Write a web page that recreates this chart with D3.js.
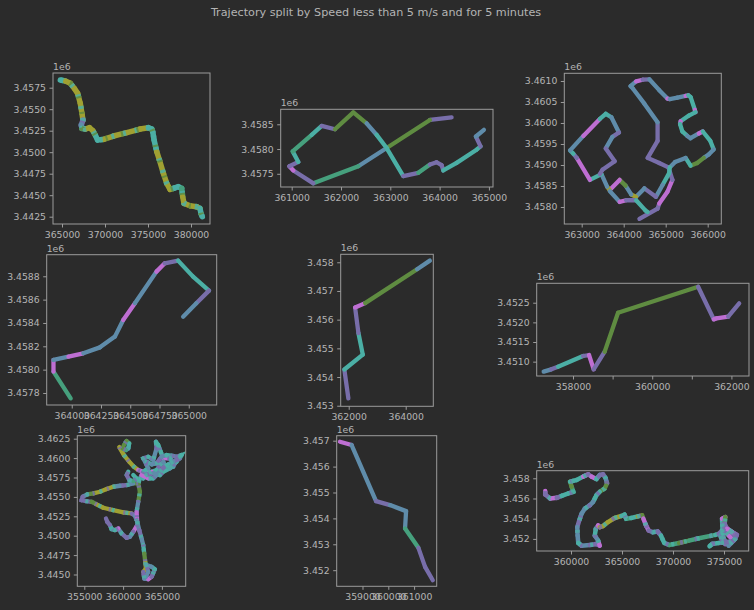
<!DOCTYPE html>
<html><head><meta charset="utf-8">
<script src="https://cdn.jsdelivr.net/npm/d3@7"></script>
<style>body{margin:0;background:#2b2b2b}</style>
</head><body><svg id="c" width="754" height="610"></svg>
<script>
const title = "Trajectory split by Speed less than 5 m/s and for 5 minutes";
const palette = {t:"#4bafa5", s:"#5f8caa", p:"#786eaa", m:"#be6ed2", o:"#a0a032", g:"#5f8c41", e:"#46a07d"};

// ---------- data (x, y in metres) ----------
const p1Points = [[364807,3458391],[365387,3458275],[365967,3458004],[366430,3457422],[366817,3456841],[367126,3455678],[367320,3454515],[367436,3453740],[367242,3453159],[367320,3452771],[367706,3452694],[368209,3452849],[368595,3452500],[368866,3451996],[369137,3451415],[369833,3451492],[370992,3451880],[372539,3452267],[374085,3452694],[375052,3452849],[375438,3452694],[375554,3452384],[375709,3451415],[376018,3450058],[376327,3449089],[376791,3447539],[377178,3446376],[377565,3445678],[377951,3445795],[378531,3445988],[378918,3445795],[379034,3444826],[379188,3444051],[379884,3443779],[380657,3443663],[381044,3443469],[381160,3442887],[381315,3442500]];
const p1Colors = "toooooopstooottoooottttoooootteoooottt";

const p2Points = [[364243,3458640],[363804,3458587],[362926,3458020],[362351,3457653],[361439,3457307],[361034,3457567],[360953,3457653],[361135,3457740],[361020,3457953],[361405,3458287],[361608,3458467],[361878,3458400],[362250,3458740],[362520,3458520],[362723,3458287],[362926,3458020],[363264,3457453],[363568,3457520],[363804,3457687],[363939,3457733],[364041,3457673],[364074,3457567],[364345,3457720],[364750,3457987],[364831,3458053],[364736,3458253],[364899,3458387]];
const p2Colors = "pgsepmptetpggsttpeppptttps";

const p3PointsA = [[364375,3457718],[364807,3457960],[364846,3458081],[365042,3458363],[365160,3458645],[365066,3458943],[364846,3459048],[364571,3459169],[364807,3459573],[364807,3460016],[364492,3460460],[364218,3460823],[364163,3460879],[364296,3460990],[364453,3461030],[364610,3461040],[364846,3460782],[365042,3460581],[365097,3460570],[365278,3460605],[365474,3460645],[365537,3460661],[365592,3460621],[365694,3460314],[365710,3460258],[365553,3460177],[365356,3460040],[365341,3459976],[365396,3459798],[365514,3459693],[365592,3459637],[365789,3459750],[365883,3459798],[366063,3459573],[366142,3459371],[366024,3459250],[365906,3459169],[365749,3459048],[365592,3458984],[365474,3459169],[365223,3459073],[365097,3458943],[365082,3458806],[364925,3458524],[364767,3458242],[364492,3458443],[364296,3458242],[364178,3458298],[364045,3458508],[363903,3458645],[363668,3458403],[363605,3458484],[363471,3458782],[363196,3458645],[362882,3459169],[362803,3459266],[362725,3459347],[363039,3459693],[363432,3460097],[363573,3460218],[363707,3460137],[363888,3459774],[363731,3459669],[363573,3459395],[363786,3459089],[363495,3458887],[363432,3458782]];
const p3ColorsA = "ppmmpppppssssmpssmssmttmttmttssmttssggtssttspsosgmostmptsmttspspp";
const p3PointsB = [[363668,3458379],[363903,3458121],[364060,3458161],[364296,3458161],[364516,3457919],[364571,3457879]];
const p3ColorsB = "smptt";

const p4Points = [[363991,3457754],[363844,3457983],[363844,3458083],[363972,3458111],[364099,3458140],[364241,3458191],[364369,3458283],[364440,3458426],[364540,3458569],[364724,3458840],[364795,3458911],[364909,3458934],[365037,3458797],[365173,3458677],[365065,3458569],[364952,3458454]];
const p4Colors = "emsmsssmsmpttps";

const p5Points = [[361988,3453255],[361847,3454262],[362494,3454782],[362341,3455535],[362224,3456426],[362576,3456576],[364400,3457757],[364847,3458058]];
const p5Colors = "pttpmgs";

const p6Points = [[357259,3450746],[357452,3450805],[357621,3450873],[358253,3451144],[358404,3451169],[358522,3450805],[358800,3451254],[359137,3452246],[361159,3452907],[361555,3452076],[361622,3452102],[361918,3452144],[362196,3452483]];
const p6Colors = "sptpmpggpmmp";

const p7PointsA = [[359507,3461425],[360107,3460393],[360794,3459533],[361395,3458888],[361953,3458458],[362597,3458243],[363241,3458673],[362597,3459963],[363241,3460178],[363884,3459748],[364314,3461253],[364228,3462113],[364529,3461683],[365172,3459963],[366030,3459963],[366674,3459318],[366460,3458888],[365601,3458673],[365172,3459533],[364743,3459103],[364314,3458458],[363670,3458243],[363026,3458028],[362597,3457383],[363026,3457813],[363884,3458028],[364743,3457813],[365172,3458243],[366030,3458673],[366889,3459533],[367318,3460178],[366889,3459963]];
const p7ColorsA = "oooomtsptspttmsptssptmstpsststst";
const p7PointsB = [[360236,3461898],[360451,3462199],[360794,3461898],[360665,3461253],[360365,3461038],[359936,3461253],[360107,3461683]];
const p7ColorsB = "egtseg";
const p7PointsC = [[362597,3458243],[362168,3457383],[361953,3456738],[362168,3455663],[361953,3454373],[361738,3453083],[361824,3451793],[362082,3450718],[362382,3449643],[362597,3448783],[362726,3447708],[362855,3446633],[362940,3445773],[362597,3445343],[362726,3444483],[363241,3444397],[363670,3444698],[364099,3445687],[363670,3445988],[363026,3446203],[363241,3445343],[362940,3444698]];
const p7ColorsC = "ptggsmspstgoopsmptsps";
const p7PointsD = [[361953,3456738],[361309,3456738],[360451,3456523],[359592,3456437],[358734,3456308],[357876,3456007],[357017,3455663],[356159,3455448],[355386,3455319],[354785,3455018],[354657,3454588],[355215,3454459],[355944,3454373],[356588,3454029],[357446,3453599],[358734,3453298],[360022,3452997],[361095,3452868],[361524,3452567],[361738,3452008]];
const p7ColorsD = "gspsooogspppgoooops";
const p7PointsE = [[361824,3451363],[361309,3450503],[360880,3449858],[360451,3449729],[359807,3450288],[359378,3450933],[358949,3450718],[358519,3450847],[358305,3451363],[357961,3451793],[357790,3452223]];
const p7ColorsE = "mpspsmtspp";
const p7PointsF = [[363026,3459533],[363670,3459189],[364314,3459318],[364958,3460178],[365601,3460393],[366245,3460307],[366889,3460178],[367533,3460393],[367318,3459963],[366460,3459533],[365816,3459189],[365172,3458759],[364529,3458028],[363884,3457383],[363241,3457383],[362382,3457813]];
const p7ColorsF = "tspstsptpstpstm";
const p7PointsG = [[360665,3458243],[360451,3457813],[360794,3457168],[361309,3457039],[361738,3457383],[361309,3457813]];
const p7ColorsG = "tpset";

const p8Points = [[358127,3456961],[358579,3456832],[359524,3454667],[360068,3454513],[360689,3454281],[360650,3453611],[361167,3452863],[361426,3452129],[361724,3451613]];
const p8Colors = "mspssepp";

const p9Points = [[357473,3456733],[357473,3456400],[357959,3456000],[358607,3456067],[359093,3456267],[359741,3456500],[360227,3456667],[360065,3457167],[359903,3457667],[360551,3457833],[361199,3458167],[361685,3458400],[362009,3458167],[362495,3457933],[362819,3458333],[363143,3458400],[363402,3458000],[363532,3457500],[363305,3457000],[362819,3456667],[362495,3456333],[362171,3455667],[361847,3455333],[361361,3455000],[361037,3454500],[360810,3453833],[360616,3453167],[360648,3452333],[360713,3451600],[361037,3451333],[361847,3451400],[362495,3451500],[362819,3451333],[362657,3451833],[362333,3452333],[362430,3453000],[362657,3453333],[362819,3453167],[363143,3453267],[363629,3453667],[364277,3454067],[364925,3454267],[365249,3454400],[365411,3454000],[365897,3454067],[366545,3454233],[366966,3454333],[367096,3454000],[367355,3453333],[367614,3452833],[368003,3452667],[368489,3452733],[368813,3452333],[369137,3451600],[369623,3451400],[370595,3451600],[371567,3451833],[372539,3452067],[374159,3452400],[374483,3452500],[374807,3452833],[375131,3453167],[375779,3452667],[376103,3452167],[375617,3451667],[375131,3451500],[374807,3451833],[374645,3452333],[374969,3452833],[375455,3452333],[375941,3451833],[375455,3451333],[374969,3452000],[374872,3452500],[374807,3454000],[375131,3454167],[375066,3453500],[375293,3453000],[376265,3452400],[376103,3452000],[375779,3451733],[374483,3451600],[373835,3451500],[373576,3451267]];
const p9Colors = "mpmpttegttmpmtppsggttsssspsstsppmstpmooootteto gmmpspttegeetppmpspmpspmpsptmgpmpsptt".replace(/ /g,"");

// ---------- ticks ----------
const xTicks = [
  [365000,370000,375000,380000],
  [361000,362000,363000,364000,365000],
  [363000,364000,365000,366000],
  [364000,364250,364500,364750,365000],
  [362000,364000],
  [358000,359000,360000,361000,362000],
  [355000,360000,365000],
  [359000,360000,361000],
  [360000,365000,370000,375000]
];
const xLabels = [
  ["365000","370000","375000","380000"],
  ["361000","362000","363000","364000","365000"],
  ["363000","364000","365000","366000"],
  ["364000","364250","364500","364750","365000"],
  ["362000","364000"],
  ["358000","","360000","","362000"],
  ["355000","360000","365000"],
  ["359000","360000","361000"],
  ["360000","365000","370000","375000"]
];
const yTicks = [
  [3442500,3445000,3447500,3450000,3452500,3455000,3457500],
  [3457500,3458000,3458500],
  [3458000,3458500,3459000,3459500,3460000,3460500,3461000],
  [3457800,3458000,3458200,3458400,3458600,3458800],
  [3453000,3454000,3455000,3456000,3457000,3458000],
  [3451000,3451500,3452000,3452500],
  [3445000,3447500,3450000,3452500,3455000,3457500,3460000,3462500],
  [3452000,3453000,3454000,3455000,3456000,3457000],
  [3452000,3454000,3456000,3458000]
];
const yLabels = [
  ["3.4425","3.4450","3.4475","3.4500","3.4525","3.4550","3.4575"],
  ["3.4575","3.4580","3.4585"],
  ["3.4580","3.4585","3.4590","3.4595","3.4600","3.4605","3.4610"],
  ["3.4578","3.4580","3.4582","3.4584","3.4586","3.4588"],
  ["3.453","3.454","3.455","3.456","3.457","3.458"],
  ["3.4510","3.4515","3.4520","3.4525"],
  ["3.4450","3.4475","3.4500","3.4525","3.4550","3.4575","3.4600","3.4625"],
  ["3.452","3.453","3.454","3.455","3.456","3.457"],
  ["3.452","3.454","3.456","3.458"]
];

const tracks = [
  [[p1Points,p1Colors]],
  [[p2Points,p2Colors]],
  [[p3PointsA,p3ColorsA],[p3PointsB,p3ColorsB]],
  [[p4Points,p4Colors]],
  [[p5Points,p5Colors]],
  [[p6Points,p6Colors]],
  [[p7PointsD,p7ColorsD],[p7PointsE,p7ColorsE],[p7PointsC,p7ColorsC],[p7PointsA,p7ColorsA],[p7PointsF,p7ColorsF],[p7PointsG,p7ColorsG],[p7PointsB,p7ColorsB]],
  [[p8Points,p8Colors]],
  [[p9Points,p9Colors]]
];

// ---------- layout (pixel boxes + axis limits) ----------
const layout = [
  {box:[53,73,210,224], xd:[363953,382209], yd:[3441651,3459209], lw:5.5, speckle:[["t","3 9",0],["g","2 14",6]]},
  {box:[280.7,109.3,493,187], xd:[360777,365083], yd:[3457233,3458803], lw:4.3},
  {box:[564.3,73.3,721.3,224], xd:[362586,366324], yd:[3457595,3461183], lw:4.3},
  {box:[46.7,254.7,216.7,405], xd:[363786,365239], yd:[3457697,3458985], lw:4.3},
  {box:[340.7,254.3,433.3,406.3], xd:[361719,364968], yd:[3452980,3458278], lw:4.3},
  {box:[536.7,283.3,749,376], xd:[357083,362444], yd:[3450635,3452994], lw:4.3},
  {box:[77.3,435.7,185.7,586.3], xd:[354098,368067], yd:[3443479,3462887], lw:4.3, speckle:[["p","2 13",0],["t","3 11",5]]},
  {box:[336.7,435.7,436.7,586.3], xd:[358000,361876], yd:[3451378,3457193], lw:4.3},
  {box:[536.7,470.7,748.7,551], xd:[356637,377422], yd:[3450802,3458752], lw:4.5, speckle:[["p","3 12",0],["t","3 10",6]]}
];

const BG = "#2b2b2b", FRAME = "#9c9c9c", TXT = "#b4b4b4";
const FONT = "DejaVu Sans, sans-serif";

const svg = d3.select("#c");
svg.append("rect").attr("width",754).attr("height",610).attr("fill",BG);
svg.append("text").attr("x",376).attr("y",16).attr("text-anchor","middle")
  .attr("font-family",FONT).attr("font-size",11.2).attr("fill",TXT).text(title);
const defs = svg.append("defs");

layout.forEach((L,i)=>{
  const [x0,y0,x1,y1] = L.box;
  const x = d3.scaleLinear().domain(L.xd).range([x0,x1]);
  const y = d3.scaleLinear().domain(L.yd).range([y1,y0]);
  defs.append("clipPath").attr("id","cp"+i).append("rect")
    .attr("x",x0).attr("y",y0).attr("width",x1-x0).attr("height",y1-y0);
  const g = svg.append("g");
  const lg = g.append("g").attr("clip-path",`url(#cp${i})`);
  const lineGen = d3.line().x(d=>x(d[0])).y(d=>y(d[1]));
  tracks[i].forEach(([pts,cols])=>{
    for(let k=0;k<pts.length-1;k++){
      const c = palette[cols[k]] || palette[cols[cols.length-1]] || palette.t;
      lg.append("line")
        .attr("x1",x(pts[k][0])).attr("y1",y(pts[k][1]))
        .attr("x2",x(pts[k+1][0])).attr("y2",y(pts[k+1][1]))
        .attr("stroke",c).attr("stroke-width",L.lw).attr("stroke-linecap","round");
    }
  });
  if(L.speckle){
    tracks[i].forEach(([pts])=>{
      L.speckle.forEach(([c,dash,off])=>{
        lg.append("path").attr("d",lineGen(pts)).attr("fill","none")
          .attr("stroke",palette[c]).attr("stroke-width",L.lw)
          .attr("stroke-dasharray",dash).attr("stroke-dashoffset",off)
          .attr("stroke-linecap","butt").attr("opacity",0.85);
      });
    });
  }
  g.append("rect").attr("x",x0).attr("y",y0).attr("width",x1-x0).attr("height",y1-y0)
    .attr("fill","none").attr("stroke",FRAME).attr("stroke-width",1);
  const ax = g.append("g").attr("transform",`translate(0,${y1})`)
    .call(d3.axisBottom(x).tickValues(xTicks[i]).tickFormat((d,k)=>xLabels[i][k])
      .tickSizeInner(3.5).tickSizeOuter(0).tickPadding(3.5));
  const ay = g.append("g").attr("transform",`translate(${x0},0)`)
    .call(d3.axisLeft(y).tickValues(yTicks[i]).tickFormat((d,k)=>yLabels[i][k])
      .tickSizeInner(3.5).tickSizeOuter(0).tickPadding(3.5));
  [ax,ay].forEach(a=>{
    a.select(".domain").remove();
    a.selectAll("line").attr("stroke",FRAME);
    a.selectAll("text").attr("fill",TXT).attr("font-family",FONT).attr("font-size",9.3);
  });
  g.append("text").attr("x",x0).attr("y",y0-3).attr("font-family",FONT)
    .attr("font-size",9.3).attr("fill",TXT).text("1e6");
});
</script></body></html>
